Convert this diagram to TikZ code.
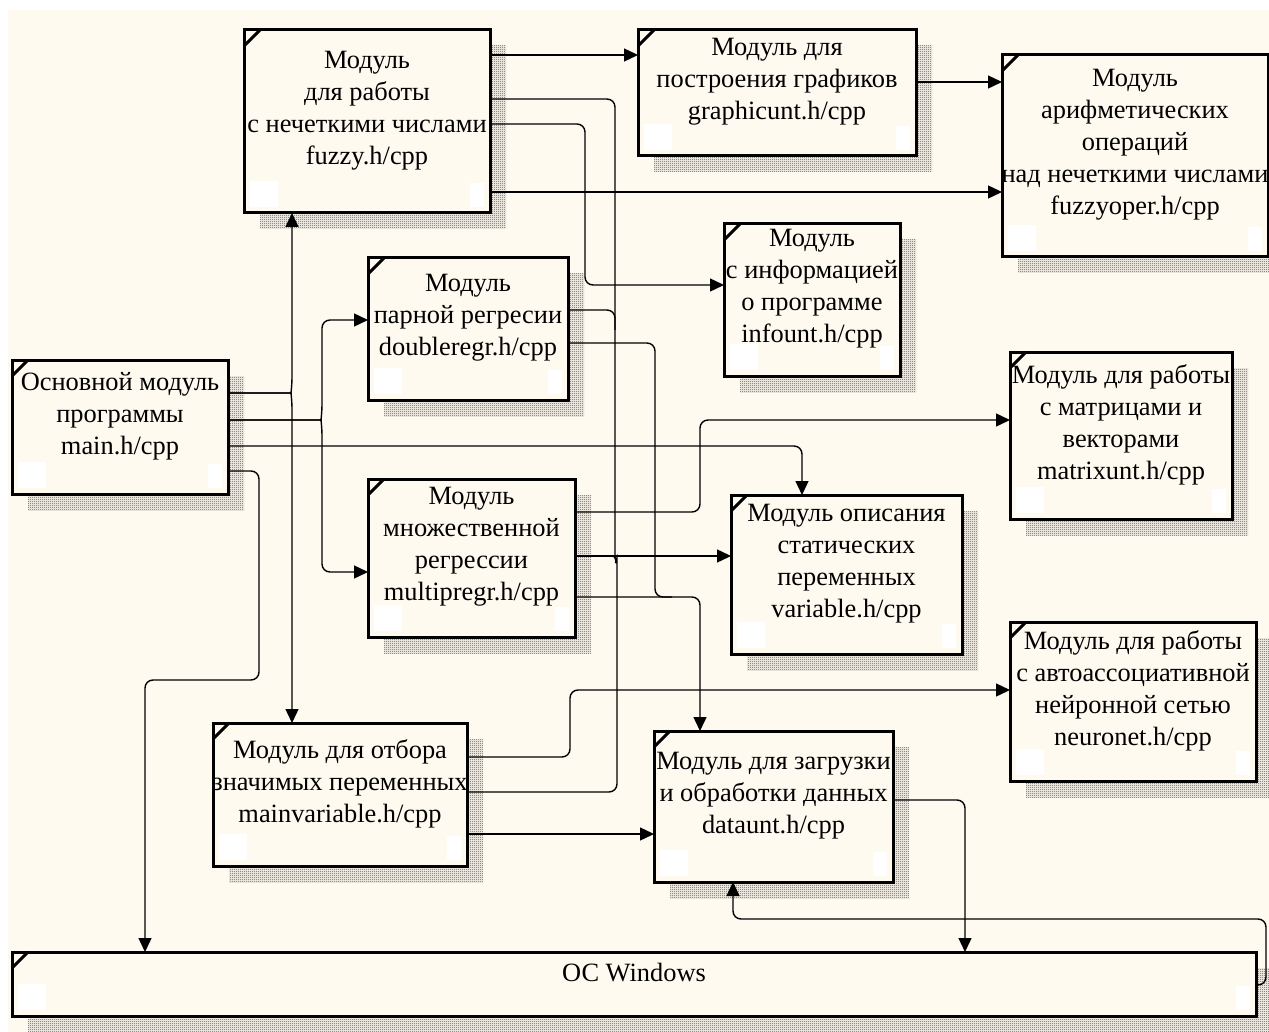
\documentclass[tikz,border=0pt]{standalone}
\usepackage{fontspec}
\setmainfont{Liberation Serif}
\usetikzlibrary{arrows.meta,fit,patterns}
\pgfdeclarelayer{bgl}
\pgfdeclarelayer{shl}
\pgfsetlayers{bgl,shl,main}
\definecolor{cream}{RGB}{255,250,240}
\definecolor{shade}{RGB}{80,80,80}
\pgfdeclarepatternformonly{fchk}{\pgfpointorigin}{\pgfqpoint{1pt}{1pt}}{\pgfqpoint{1pt}{1pt}}{%
  \pgfpathrectangle{\pgfpointorigin}{\pgfqpoint{0.5pt}{0.5pt}}%
  \pgfpathrectangle{\pgfqpoint{0.5pt}{0.5pt}}{\pgfqpoint{0.5pt}{0.5pt}}%
  \pgfusepath{fill}}
\tikzset{
  boxst/.style={draw, line width=1.5pt, fill=cream, inner sep=0pt, outer sep=0pt},
  shadowst/.style={pattern=fchk, pattern color=shade},
  txt/.style={align=center, font=\fontsize{13.2}{16}\selectfont, inner sep=0pt},
  conn/.style={line width=0.7pt, rounded corners=4pt},
  arr/.style={-{Triangle[length=7pt,width=6.5pt]}},
  blob/.style={fill=white},
}
\newcommand{\modbox}[6]{%
  \coordinate (#1-nw) at (#2,#3);
  \coordinate (#1-se) at (#4,#5);
  \node[boxst, fit=(#1-nw)(#1-se)] (#1) {};
  \begin{pgfonlayer}{shl}
    \fill[shadowst] ([shift={(16,16)}]#1.north west) rectangle ([shift={(16,16)}]#1.south east);
  \end{pgfonlayer}
  \fill[blob] ([shift={(6,-6)}]#1.south west) rectangle ++(28,-26);
  \fill[blob] ([shift={(-6,-6)}]#1.south east) rectangle ++(-14,-24);
  \draw[line width=1.5pt] ([shift={(0,16)}]#1.north west) -- ([shift={(16,0)}]#1.north west);
  \node[txt] (#1-t) at ([yshift=5.5pt]#1.center) {#6};
}
\begin{document}
\begin{tikzpicture}[x=0.5pt,y=-0.5pt]
\useasboundingbox (0,0) rectangle (1269,1032);
\begin{pgfonlayer}{bgl}
  \fill[white] (0,0) rectangle (1269,1032);
  \fill[cream] (8,10) rectangle (1269,1032);
\end{pgfonlayer}

\modbox{fuzzy}{244}{30}{490}{213}{Модуль\\для работы\\с нечеткими числами\\fuzzy.h/cpp}
\modbox{graph}{638}{30}{916}{156}{Модуль для\\построения графиков\\graphicunt.h/cpp}
\modbox{foper}{1002}{55}{1268}{257}{Модуль\\арифметических\\операций\\над нечеткими числами\\fuzzyoper.h/cpp}
\modbox{info}{724}{224}{900}{376}{Модуль\\с информацией\\о программе\\infount.h/cpp}
\modbox{dreg}{368}{258}{568}{400}{Модуль\\парной регресии\\doubleregr.h/cpp}
\modbox{main}{12}{360}{228}{494}{Основной модуль\\программы\\main.h/cpp}
\modbox{mreg}{368}{479}{575}{637}{Модуль\\множественной\\регрессии\\multipregr.h/cpp}
\modbox{var}{731}{495}{962}{654}{Модуль описания\\статических\\переменных\\variable.h/cpp}
\modbox{matr}{1010}{352}{1232}{519}{Модуль для работы\\с матрицами и\\векторами\\matrixunt.h/cpp}
\modbox{neur}{1010}{622}{1256}{781}{Модуль для работы\\с автоассоциативной\\нейронной сетью\\neuronet.h/cpp}
\modbox{mvar}{213}{723}{467}{866}{Модуль для отбора\\значимых переменных\\mainvariable.h/cpp}
\modbox{data}{654}{731}{893}{882}{Модуль для загрузки\\и обработки данных\\dataunt.h/cpp}
\modbox{oc}{12}{952}{1256}{1016}{ОС Windows}

% fuzzy outputs
\draw[conn,arr] (fuzzy.east |- 0,55) -- (graph.west |- 0,55);
\draw[conn] (fuzzy.east |- 0,99) -- (615,99) -- (615,550) .. controls (615,556) .. (619,556) .. controls (617,560) .. (617,566) -- (617,792) -- (mvar.east |- 0,792);
\draw[conn,arr] (fuzzy.east |- 0,124) -- (585,124) -- (585,285) -- (info.west |- 0,285);
\draw[conn,arr] (fuzzy.east |- 0,192) -- (foper.west |- 0,192);
\draw[conn,arr] (graph.east |- 0,82) -- (foper.west |- 0,82);

% main outputs
\draw[conn,arr] (main.east |- 0,393) -- (283,393) .. controls (291,393) .. (292,385) -- (fuzzy.south -| 292,0);
\draw[conn,arr] (main.east |- 0,393) -- (283,393) .. controls (291,393) .. (292,401) -- (mvar.north -| 292,0);
\draw[conn,arr] (main.east |- 0,420) -- (313,420) .. controls (321,420) .. (322,412) -- (322,320) -- (dreg.west |- 0,320);
\draw[conn,arr] (main.east |- 0,420) -- (313,420) .. controls (321,420) .. (322,428) -- (322,572) -- (mreg.west |- 0,572);
\draw[conn,arr] (main.east |- 0,446) -- (802,446) -- (var.north -| 802,0);
\draw[conn,arr] (main.east |- 0,471) -- (259,471) -- (259,680) -- (145,680) -- (oc.north -| 145,0);

% doubleregr outputs
\draw[conn] (dreg.east |- 0,310) -- (615,310) -- (615,330);
\draw[conn] (dreg.east |- 0,343) -- (655,343) -- (655,597) -- (672,597);

% multipregr outputs
\draw[conn,arr] (mreg.east |- 0,512) -- (700,512) -- (700,420) -- (matr.west |- 0,420);
\draw[conn,arr] (mreg.east |- 0,556) -- (var.west |- 0,556);
\draw[conn,arr] (mreg.east |- 0,597) -- (700,597) -- (data.north -| 700,0);

% mainvariable outputs
\draw[conn,arr] (mvar.east |- 0,757) -- (570,757) -- (570,690) -- (neur.west |- 0,690);
\draw[conn,arr] (mvar.east |- 0,834) -- (data.west |- 0,834);

% dataunt <-> OS
\draw[conn,arr] (data.east |- 0,800) -- (965,800) -- (oc.north -| 965,0);
\draw[conn,arr] (oc.east |- 0,985) -- (1266,985) -- (1266,919) -- (733,919) -- (data.south -| 733,0);
\end{tikzpicture}
\end{document}
